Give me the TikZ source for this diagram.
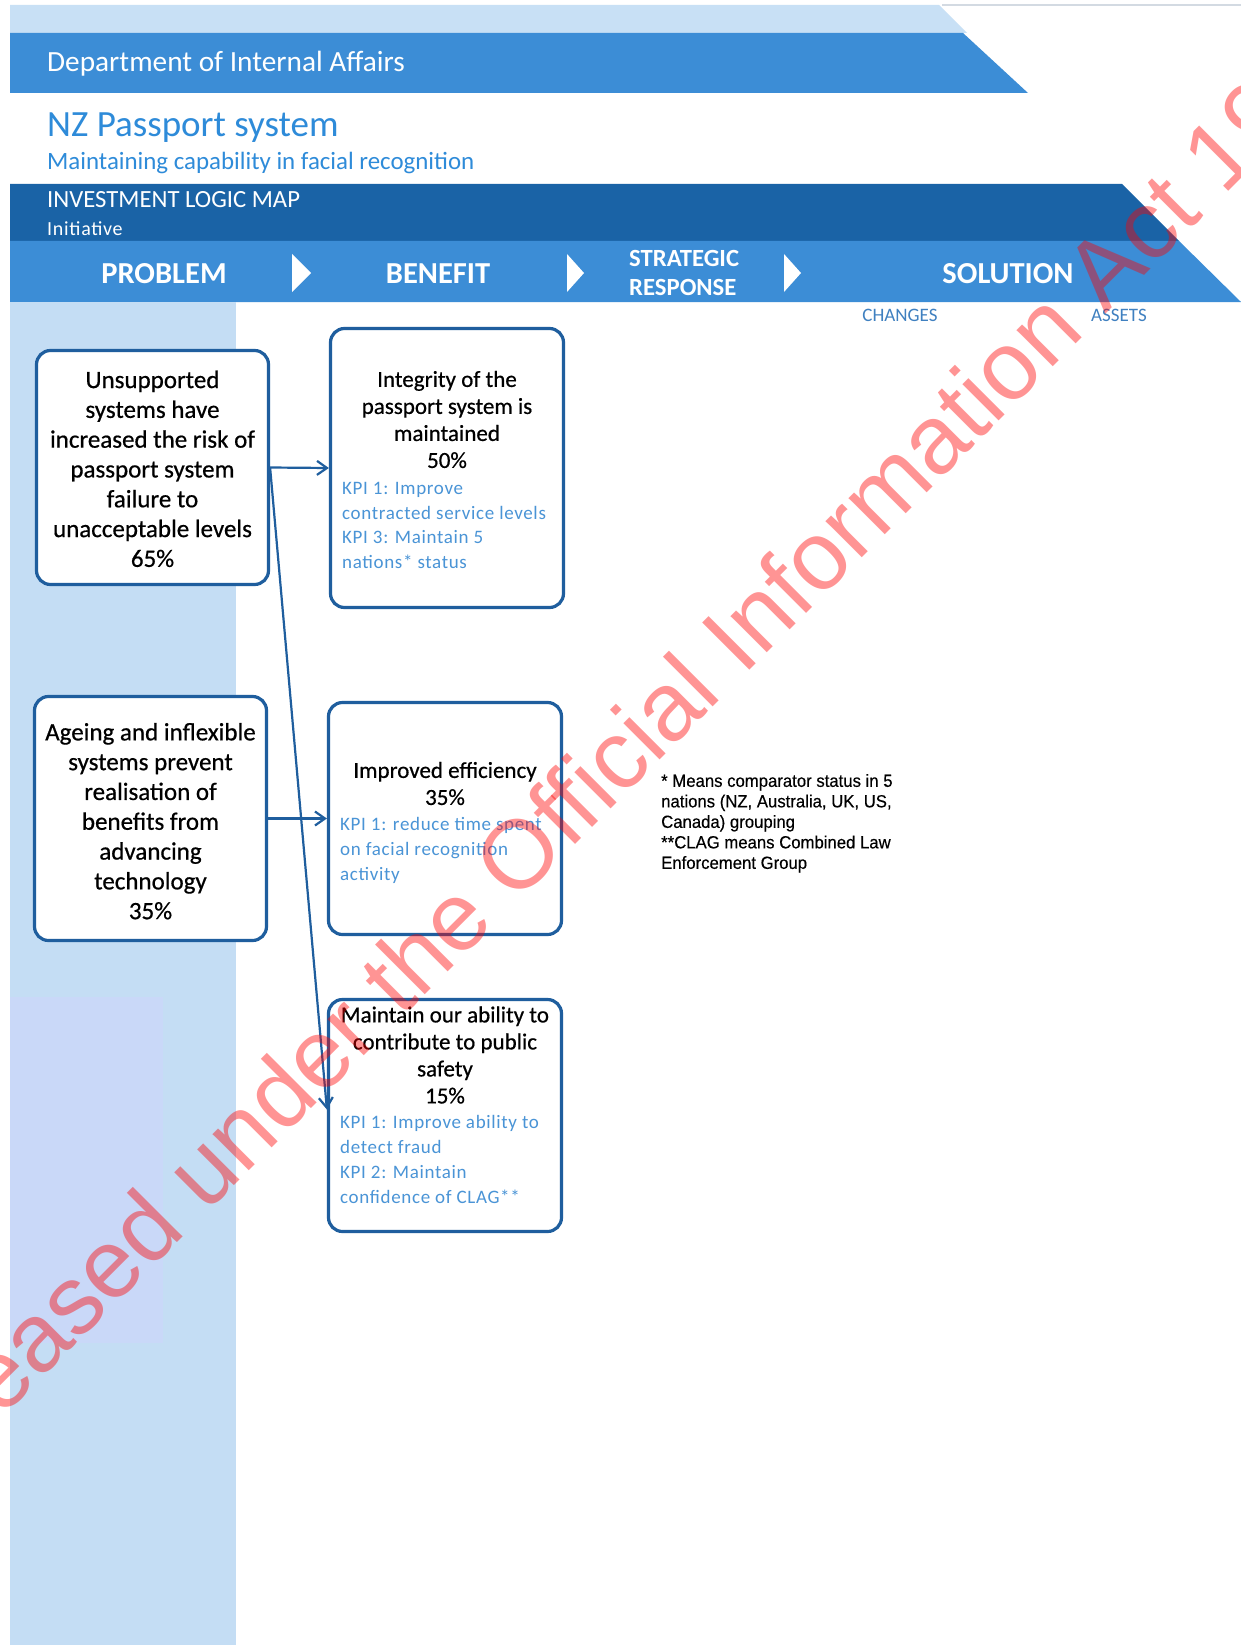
\documentclass[tikz,border=0pt]{standalone}
\usepackage{fontspec}
\setmainfont{Carlito}
\newfontfamily\boxfont[FakeBold=0.6]{Carlito}
\newfontfamily\kpifont[LetterSpace=3.5]{Carlito}
\newfontfamily\notefont[FakeStretch=0.95,FakeBold=0.3]{Liberation Sans}
\newfontfamily\wmfont{Liberation Sans}
\usetikzlibrary{arrows.meta,calc}

\definecolor{lightband}{HTML}{C8E0F5}
\definecolor{midband}{HTML}{3C8DD6}
\definecolor{darkband}{HTML}{1A63A6}
\definecolor{colfill}{HTML}{C4DDF4}
\definecolor{lavfill}{HTML}{C9D8F8}
\definecolor{boxline}{HTML}{1F5E9E}
\definecolor{titleblue}{HTML}{2E8BD9}
\definecolor{kpiblue}{HTML}{4A94D6}
\definecolor{smallblue}{HTML}{3F80C0}
\definecolor{topline}{HTML}{D3DAE2}

\newcommand{\fsz}[2]{\fontsize{#1}{#2}\selectfont}

\begin{document}
\begin{tikzpicture}[x=1pt,y=-1pt,
  box/.style={draw=boxline, line width=3.2pt, rounded corners=14pt, fill=white, inner sep=0pt},
  probtext/.style={align=center, inner sep=0pt, anchor=north, text=black, font=\boxfont\fsz{25}{29.8}},
  bentext/.style={align=center, inner sep=0pt, anchor=north, text=black, font=\boxfont\fsz{23}{27}},
  kpitext/.style={align=left, inner sep=0pt, anchor=north west, text=kpiblue, font=\kpifont\fsz{19}{24.9}},
  headtext/.style={inner sep=0pt, anchor=base west, text=white},
  coltext/.style={inner sep=0pt, anchor=base, text=white, font=\bfseries\fsz{30.5}{30.5}},
  subtext/.style={inner sep=0pt, anchor=base, text=smallblue, font=\fsz{19}{19}},
  conn/.style={draw=boxline, line width=2.2pt, -{Straight Barb[length=10pt,width=14pt]}},
  playtri/.style={fill=white}
]
\useasboundingbox (0,0) rectangle (1241,1645);
\fill[white] (0,0) rectangle (1241,1645);

% header bands
\draw[topline, line width=2pt] (942,5) -- (1241,5);
\fill[lightband] (10,5) -- (939,5) -- (967,33) -- (10,33) -- cycle;
\fill[midband] (10,33) -- (963,33) -- (1028,93) -- (10,93) -- cycle;
\node[headtext, font=\fsz{29.3}{29.3}] (dept) at (47,72) {Department of Internal Affairs};

\node[inner sep=0pt, anchor=base west, text=titleblue, font=\fsz{37}{37}] (title) at (47,137) {NZ Passport system};
\node[inner sep=0pt, anchor=base west, text=titleblue, font=\fsz{24.9}{24.9}] (subtitle) at (47,170) {Maintaining capability in facial recognition};

\fill[darkband] (10,184) -- (1122,184) -- (1179,241) -- (10,241) -- cycle;
\node[headtext, font=\fsz{24.7}{24.7}] (ilm) at (47,208) {INVESTMENT LOGIC MAP};
\node[headtext, font=\kpifont\fsz{20}{20}] (init) at (47,236) {Initiative};

\fill[midband] (10,241) -- (1179,241) -- (1241,302) -- (10,302) -- cycle;
\node[coltext] (hprob) at (164,283) {PROBLEM};
\node[coltext] (hben) at (438,283) {BENEFIT};
\node[inner sep=0pt, anchor=base west, text=white, font=\bfseries\fsz{24.7}{29}] (hstrat) at (629,266) {STRATEGIC};
\node[inner sep=0pt, anchor=base west, text=white, font=\bfseries\fsz{24.7}{29}] (hresp) at (629,295) {RESPONSE};
\node[coltext] (hsol) at (1008,283) {SOLUTION};
\fill[playtri] (292,254) -- (311,273) -- (292,292) -- cycle;
\fill[playtri] (567,254) -- (584,273) -- (567,292) -- cycle;
\fill[playtri] (784,254) -- (801,273) -- (784,292) -- cycle;
\node[subtext] (chg) at (900,321) {CHANGES};
\node[subtext] (ast) at (1119,321) {ASSETS};

% left column
\fill[colfill] (10,302) rectangle (236,1645);
\fill[lavfill] (10,997) rectangle (163,1343);

% boxes
\node[box, minimum width=232, minimum height=234] (p1) at (152.5,467.5) {};
\node[box, minimum width=233, minimum height=279] (b1) at (447,468) {};
\node[box, minimum width=232, minimum height=244] (p2) at (150.5,818.5) {};
\node[box, minimum width=233, minimum height=232] (b2) at (445,818.5) {};
\node[box, minimum width=233, minimum height=232] (b3) at (445,1115.5) {};

% box texts
\node[probtext] (p1t) at (152.5,367) {\strut Unsupported\\systems have\\increased the risk of\\passport system\\failure to\\unacceptable levels\\65\%};
\node[probtext] (p2t) at (150.5,719.3) {\strut Ageing and inflexible\\systems prevent\\realisation of\\benefits from\\advancing\\technology\\35\%};

\node[bentext] (b1t) at (447,367.8) {\strut Integrity of the\\passport system is\\maintained\\50\%};
\node[kpitext] (b1k) at (342,476.5) {\strut KPI 1: Improve\\contracted service levels\\KPI 3: Maintain 5\\nations* status};

\node[bentext] (b2t) at (445,758.8) {\strut Improved efficiency\\35\%};
\node[kpitext] (b2k) at (340,812.8) {\strut KPI 1: reduce time spent\\on facial recognition\\activity};

\node[bentext] (b3t) at (445,1003.3) {\strut Maintain our ability to\\contribute to public\\safety\\15\%};
\node[kpitext] (b3k) at (340,1111.2) {\strut KPI 1: Improve ability to\\detect fraud\\KPI 2: Maintain\\confidence of CLAG**};

% connectors
\draw[conn] (p1.east) -- (b1.west);
\draw[conn] (p1.east) -- ($(b3.west)+(0,-6)$);
\draw[conn] (p2.east) -- (b2.west);

% footnote
\node[inner sep=0pt, anchor=north west, align=left, text=black, font=\notefont\fsz{17.6}{20.5}] (note) at (661,772.3) {\strut * Means comparator status in 5\\nations (NZ, Australia, UK, US,\\Canada) grouping\\**CLAG means Combined Law\\Enforcement Group};

% watermark
\begin{scope}
\clip (0,0) rectangle (1241,1645);
\node[anchor=base west, rotate=45, inner sep=0pt, text=red, opacity=0.42, font=\wmfont\fsz{97}{97}] (wm) at (-102,1522) {Released under the Official Information Act 1982};
\end{scope}
\end{tikzpicture}
\end{document}
